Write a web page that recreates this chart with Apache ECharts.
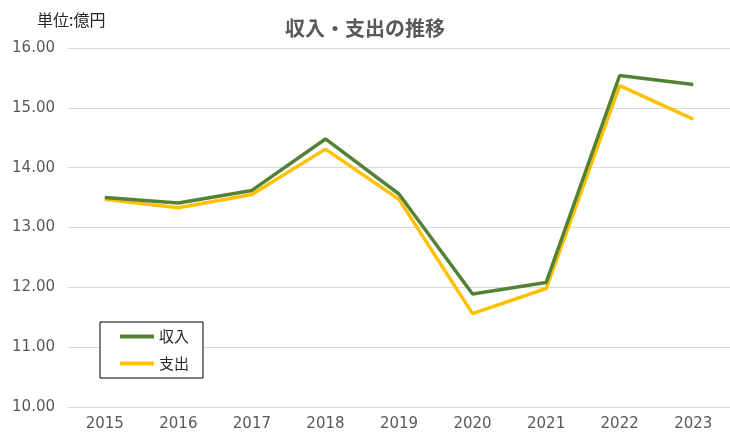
<!DOCTYPE html>
<html><head><meta charset="utf-8">
<script src="https://cdn.jsdelivr.net/npm/echarts@6/dist/echarts.min.js"></script>
<style>html,body{margin:0;padding:0;background:#fff}#c{width:730px;height:432px}</style>
</head><body><div id="c"></div>
<script>
const categories = ['2015','2016','2017','2018','2019','2020','2021','2022','2023'];
const income = [13.50, 13.41, 13.62, 14.48, 13.56, 11.89, 12.08, 15.54, 15.39];
const expense = [13.47, 13.33, 13.55, 14.31, 13.47, 11.56, 11.98, 15.37, 14.81];
const seriesNames = ['収入', '支出'];
const yTicks = { min: 10, max: 16, interval: 1 };

const cjk = '"Noto Sans CJK JP", "Noto Sans", sans-serif';
const num = '"DejaVu Sans", sans-serif';
const chart = echarts.init(document.getElementById('c'));
chart.setOption({
  animation: false,
  backgroundColor: '#fff',
  title: [
    { text: '収入・支出の推移', left: 'center', top: 13,
      textStyle: { fontFamily: cjk, fontSize: 20, fontWeight: 'bold', color: '#595959' } },
    { text: '単位:億円', left: 32, top: 7,
      textStyle: { fontFamily: cjk, fontSize: 16, fontWeight: 'normal', color: '#262626' } }
  ],
  legend: {
    orient: 'vertical', left: 100, top: 322,
    padding: [7, 14, 7, 20], itemGap: 12,
    itemWidth: 34, itemHeight: 4, icon: 'rect',
    borderColor: '#000', borderWidth: 1, backgroundColor: '#fff',
    textStyle: { fontFamily: cjk, fontSize: 15, color: '#262626' },
    data: seriesNames
  },
  grid: { left: 68, right: -12, top: 48, bottom: 24, containLabel: false },
  xAxis: {
    type: 'category', data: categories, boundaryGap: true,
    axisLine: { show: false }, axisTick: { show: false },
    axisLabel: { fontFamily: num, fontSize: 15, color: '#595959', margin: 10 }
  },
  yAxis: {
    type: 'value', min: yTicks.min, max: yTicks.max, interval: yTicks.interval,
    axisLine: { show: false }, axisTick: { show: false },
    splitLine: { lineStyle: { color: '#d9d9d9', width: 1 } },
    axisLabel: { fontFamily: num, fontSize: 15, color: '#595959', margin: 13,
      formatter: v => v.toFixed(2) }
  },
  series: [
    { name: seriesNames[0], type: 'line', data: income, showSymbol: false, symbol: 'none',
      lineStyle: { color: '#548235', width: 3.5 }, itemStyle: { color: '#548235' }, z: 3 },
    { name: seriesNames[1], type: 'line', data: expense, showSymbol: false, symbol: 'none',
      lineStyle: { color: '#FFC000', width: 3.5 }, itemStyle: { color: '#FFC000' }, z: 2 }
  ]
});
</script></body></html>
